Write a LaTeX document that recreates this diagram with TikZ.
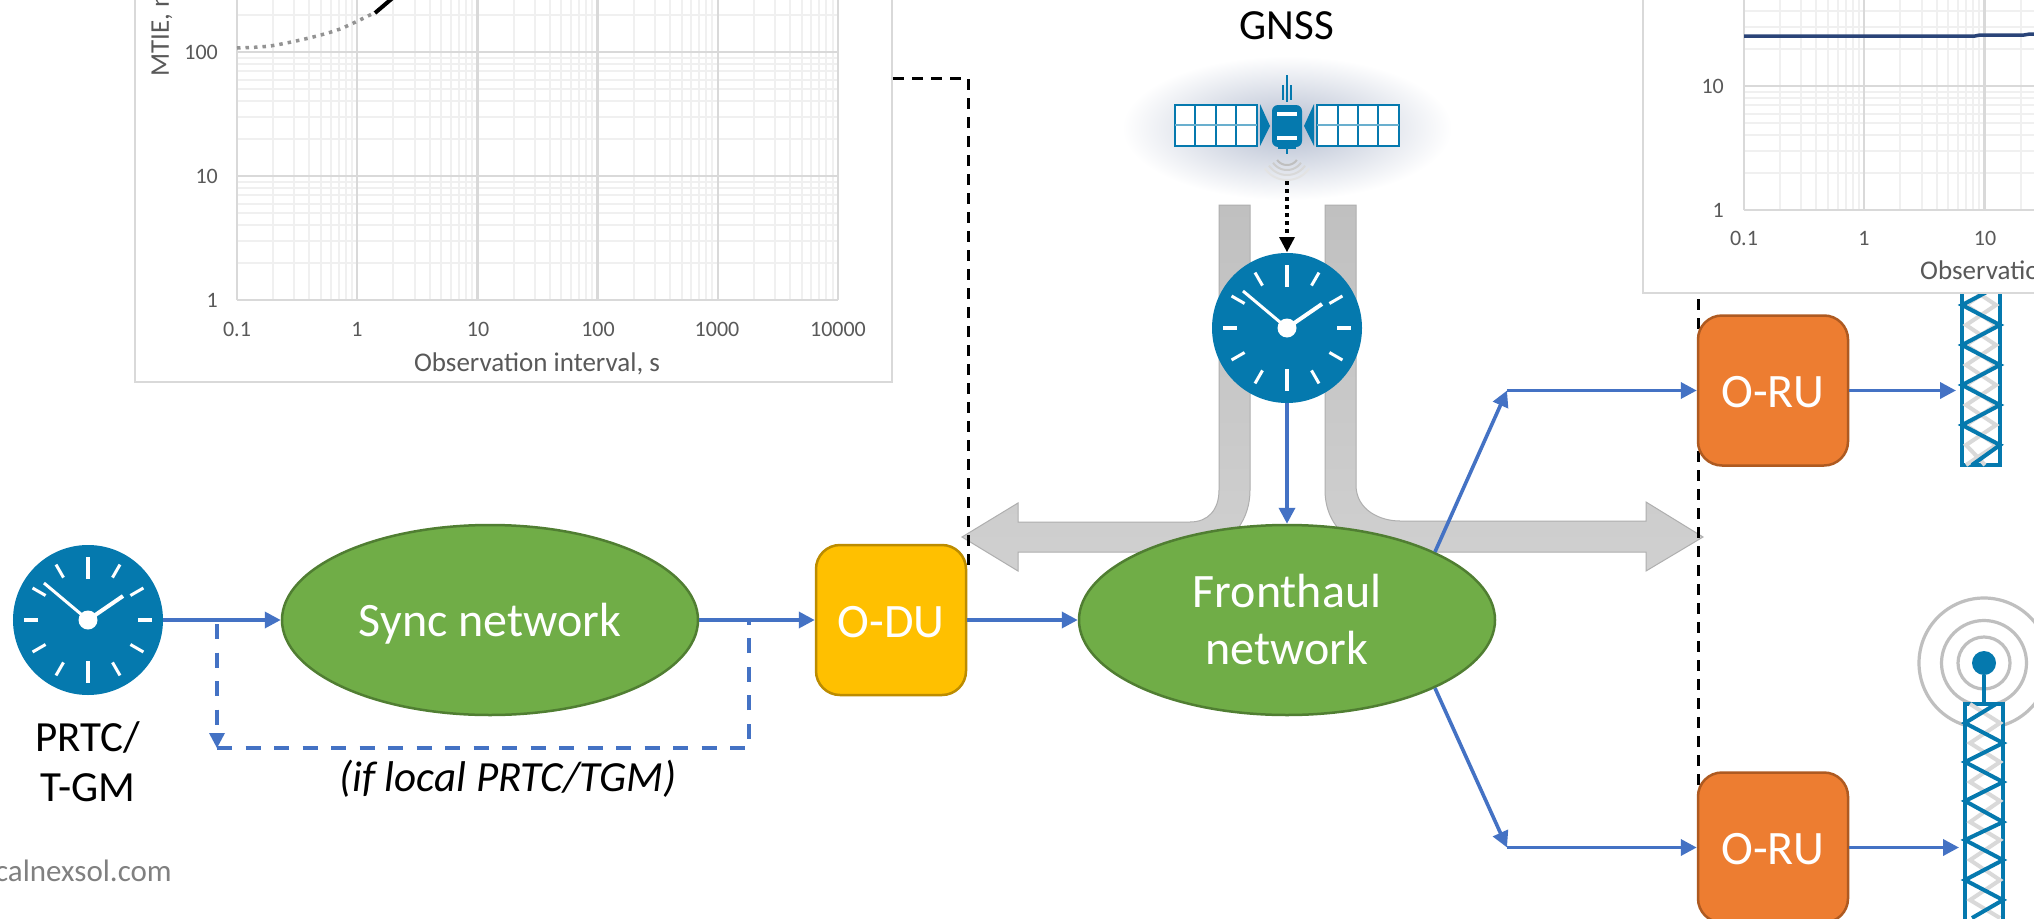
\documentclass[tikz,border=0pt]{standalone}
\usepackage{fontspec}
\setmainfont{Carlito}
\usetikzlibrary{shapes.geometric,arrows.meta}
\definecolor{clockblue}{HTML}{0579AE}
\definecolor{linkblue}{HTML}{4472C4}
\definecolor{netgreen}{HTML}{70AD47}
\definecolor{netedge}{HTML}{507E32}
\definecolor{duyellow}{HTML}{FFC000}
\definecolor{duedge}{HTML}{BC8C00}
\definecolor{ruorange}{HTML}{ED7D31}
\definecolor{ruedge}{HTML}{AE5A21}
\definecolor{axistext}{HTML}{595959}
\definecolor{gridmajor}{HTML}{D9D9D9}
\definecolor{gridlight}{HTML}{F0F0F0}
\definecolor{armtop}{HTML}{C0C0C0}
\definecolor{armbottom}{HTML}{D0D0D0}
\definecolor{armedge}{HTML}{AFAFAF}
\definecolor{navyline}{HTML}{2A4478}
\definecolor{glowblue}{HTML}{B4BDD0}
\tikzset{
  link/.style={draw=linkblue,line width=3.6bp,-{Triangle[length=16bp,width=16bp]}},
  linkdash/.style={draw=linkblue,line width=4bp,dash pattern=on 15bp off 13.5bp},
  blackdash/.style={draw=black,line width=3bp,dash pattern=on 11bp off 8bp},
  clockdisc/.style={circle,fill=clockblue,minimum size=150bp,inner sep=0bp,outer sep=0bp},
  netnode/.style={ellipse,fill=netgreen,draw=netedge,line width=2.5bp,minimum width=416bp,minimum height=190bp,inner sep=0bp,text=white,align=center,font=\fontsize{48bp}{57bp}\selectfont},
  dunode/.style={rectangle,rounded corners=24bp,fill=duyellow,draw=duedge,line width=2.5bp,minimum width=150bp,minimum height=150bp,inner sep=0bp,text=white,text height=35bp,font=\fontsize{48bp}{57bp}\selectfont},
  runode/.style={dunode,fill=ruorange,draw=ruedge},
  label43/.style={text=black,align=center,inner sep=0bp,font=\fontsize{43bp}{50bp}\selectfont},
  ticklabel/.style={text=axistext,inner sep=0bp,font=\fontsize{22bp}{26bp}\selectfont},
  axistitle/.style={text=axistext,inner sep=0bp,font=\fontsize{27bp}{31bp}\selectfont},
  chartframe/.style={rectangle,draw=gridmajor,fill=white,line width=2.5bp,inner sep=0bp},
  gridminor/.style={draw=gridlight,line width=2bp},
  gridmain/.style={draw=gridmajor,line width=2.5bp},
  towerbox/.style={rectangle,draw=clockblue,line width=4bp,minimum width=38bp,inner sep=0bp},
  towerzig/.style={draw=clockblue,line width=4bp,line join=miter},
  towergray/.style={draw=gridmajor,line width=4bp},
  ring/.style={draw=black!25,line width=3.2bp},
  tick/.style={draw=white,line width=4bp},
  armfill/.style={top color=armtop,bottom color=armbottom,draw=armedge,line width=1bp},
  panel/.style={draw=clockblue,line width=1.6bp,fill=white},
}
\newcommand{\clockface}[2]{%
  \begin{scope}[shift={(#1,#2)}]
    \foreach \a in {90,270}{\draw[tick] (\a:41) -- (\a:63);}
    \foreach \a in {0,180}{\draw[tick] (\a:50) -- (\a:64);}
    \foreach \a in {30,60,120,150,210,240,300,330}{\draw[tick,line width=3bp] (\a:49) -- (\a:64);}
    \draw[draw=white,line width=3bp] (0,0) -- (-44,-37);
    \draw[draw=white,line width=4bp] (0,0) -- (35,-24);
    \fill[white] (0,0) circle[radius=9.5];
  \end{scope}}
\newcommand{\chartgrid}[4]{%
  \foreach \k in {1,...,#3}{\foreach \m in {2,...,9}{
    \draw[gridminor] ({#1+120.2*(\k-1+log10(\m))},#2) -- ({#1+120.2*(\k-1+log10(\m))},{#2-124*#4});}}
  \foreach \k in {1,...,#4}{\foreach \m in {2,...,9}{
    \draw[gridminor] (#1,{#2-124*(\k-1+log10(\m))}) -- ({#1+120.2*#3},{#2-124*(\k-1+log10(\m))});}}
  \foreach \k in {0,...,#3}{\draw[gridmain] ({#1+120.2*\k},#2) -- ({#1+120.2*\k},{#2-124*#4});}
  \foreach \k in {0,...,#4}{\draw[gridmain] (#1,{#2-124*\k}) -- ({#1+120.2*#3},{#2-124*\k});}}
\begin{document}
\begin{tikzpicture}[x=1bp,y=-1bp]
\useasboundingbox (0,0) rectangle (2034,919);
\clip (0,0) rectangle (2034,919);
\fill[white] (0,0) rectangle (2034,919);

% glow behind the satellite
\shade[inner color=glowblue,outer color=white] (1287,128) ellipse (165 and 72);

% grey fronthaul arms
\path[armfill] (1219,205) -- (1219,490) .. controls (1219,510) and (1208,522) .. (1190,522)
  -- (1018,522) -- (1018,503) -- (962,537) -- (1018,571) -- (1018,552) -- (1190,552)
  .. controls (1225,552) and (1250,525) .. (1250,490) -- (1250,205) -- cycle;
\path[armfill] (1325,205) -- (1325,490) .. controls (1325,525) and (1350,552) .. (1400,552)
  -- (1646,552) -- (1646,571) -- (1703,537) -- (1646,502) -- (1646,521) -- (1400,521)
  .. controls (1380,521) and (1356,510) .. (1356,485) -- (1356,205) -- cycle;

% towers
\node[towerbox,minimum height=190bp] (tw1) at (1981,370) {};
\draw[towergray] (1996,285) -- (1966,305) -- (1996,325) -- (1966,345) -- (1996,365) -- (1966,385) -- (1996,405) -- (1966,425) -- (1996,445) -- (1966,465);
\draw[towergray] (1966,285) -- (1996,305) -- (1966,325) -- (1996,345) -- (1966,365) -- (1996,385) -- (1966,405) -- (1996,425) -- (1966,445) -- (1985,465);
\draw[towerzig] (2000,285) -- (1962,305) -- (2000,325) -- (1962,345) -- (2000,365) -- (1962,385) -- (2000,405) -- (1962,425) -- (2000,445) -- (1972,465);

\node[ring,circle,minimum size=52bp,inner sep=0bp] (ring1) at (1984,663) {};
\node[ring,circle,minimum size=85bp,inner sep=0bp] (ring2) at (1984,663) {};
\node[ring,circle,minimum size=130bp,inner sep=0bp] (ring3) at (1984,663) {};
\node[towerbox,minimum height=240bp,fill=white] (tw2) at (1984,824) {};
\draw[towergray] (1970,704) -- (2000,723) -- (1970,743) -- (2000,762) -- (1970,782) -- (2000,801) -- (1970,822) -- (2000,840) -- (1970,860) -- (2000,880) -- (1970,900) -- (2000,918);
\draw[towerzig] (1996,704) -- (1965,723) -- (2003,743) -- (1965,762) -- (2003,782) -- (1965,801) -- (2003,822) -- (1965,840) -- (2003,860) -- (1965,880) -- (2003,900) -- (1972,918);
\node[circle,fill=clockblue,minimum size=24bp,inner sep=0bp] (ant) at (1984,663) {};
\draw[draw=clockblue,line width=4bp] (ant) -- (tw2.north);

% right-hand dashed line, under the O-RUs
\coordinate (dR1) at (1698,299);
\coordinate (dR2) at (1698,813);
\draw[blackdash] (dR1) -- (dR2);

% charts
\node[chartframe,minimum width=757bp,minimum height=422bp] (chartL) at (513.5,171) {};
\chartgrid{237}{300}{5}{3}
\draw[draw=gray!85,line width=3.5bp,dash pattern=on 3.5bp off 5bp] plot[smooth] coordinates {(237,48) (270,46) (309,38) (340,29) (372,14)};
\draw[draw=black,line width=4bp] (375,13) -- (402,-10);
\node[ticklabel,anchor=east] (l100) at (218,52) {100};
\node[ticklabel,anchor=east] (l10) at (218,176) {10};
\node[ticklabel,anchor=east] (l1) at (218,300) {1};
\node[ticklabel] (xa) at (237,329) {0.1};
\node[ticklabel] (xb) at (357,329) {1};
\node[ticklabel] (xc) at (478,329) {10};
\node[ticklabel] (xd) at (598,329) {100};
\node[ticklabel] (xe) at (717,329) {1000};
\node[ticklabel] (xf) at (838,329) {10000};
\node[axistitle] (xtL) at (537,364) {Observation interval, s};
\node[axistitle,rotate=90,anchor=west] (ytL) at (162,77) {MTIE, ns};

\node[chartframe,minimum width=500bp,minimum height=360bp] (chartR) at (1893,113) {};
\chartgrid{1744}{210}{4}{2}
\draw[draw=navyline,line width=3.5bp] (1744,36) -- (1975,36) -- (1980,35) -- (2024,35) -- (2030,34) -- (2040,34);
\node[ticklabel,anchor=east] (r10) at (1724,86) {10};
\node[ticklabel,anchor=east] (r1) at (1724,210) {1};
\node[ticklabel] (rxa) at (1744,238) {0.1};
\node[ticklabel] (rxb) at (1864,238) {1};
\node[ticklabel] (rxc) at (1985,238) {10};
\node[axistitle,anchor=west] (xtR) at (1920,272) {Observation interval, s};

% satellite
\draw[draw=clockblue,line width=1.5bp] (1287,75) -- (1287,102);
\draw[draw=clockblue,line width=1.5bp] (1283,85) -- (1283,100) (1291,85) -- (1291,100);
\fill[clockblue] (1260,104) -- (1270,126) -- (1260,146) -- cycle;
\fill[clockblue] (1314,104) -- (1304,126) -- (1314,146) -- cycle;
\draw[panel] (1175,105) rectangle (1257,146);
\draw[panel] (1317,105) rectangle (1399,146);
\foreach \xx in {1195,1216,1236,1338,1358,1378}{\draw[draw=clockblue,line width=1.4bp] (\xx,105) -- (\xx,146);}
\draw[draw=clockblue!60,line width=1.4bp] (1175,125) -- (1257,125) (1317,125) -- (1399,125);
\fill[clockblue,rounded corners=6bp] (1272,105) rectangle (1302,147);
\fill[clockblue] (1278,146) rectangle (1296,149);
\draw[draw=clockblue,line width=1.5bp] (1287,149) -- (1287,154);
\fill[white] (1277,112) rectangle (1297,116);
\fill[white] (1277,136) rectangle (1297,140);
\foreach \r/\cc in {12/black!25,17/black!20,22/black!15,27/black!11}{
  \draw[draw=\cc,line width=2bp] plot[domain=35:145,samples=20] ({1287+\r*cos(\x)},{153+\r*sin(\x)});}
\coordinate (satfoot) at (1287,181);

% clocks
\node[clockdisc] (clk1) at (88,620) {};
\clockface{88}{620}
\node[clockdisc] (clk2) at (1287,328) {};
\clockface{1287}{328}

% network nodes
\node[netnode,text depth=0bp] (sync) at (490,620) {Sync network};
\node[netnode] (fh) at (1287,620) {Fronthaul\\network};
\node[dunode] (odu) at (891,620) {O-DU};
\node[runode] (oru1) at (1773,390.5) {O-RU};
\node[runode] (oru2) at (1773,847.5) {O-RU};

% labels
\node[label43] (gnss) at (1287,26) {GNSS};
\node[label43] (prtc) at (88,762) {PRTC/\\T-GM};
\node[label43] (note) at (508,779) {\itshape (if local PRTC/TGM)};
\node[anchor=east,inner sep=0bp,text=gray,font=\fontsize{31bp}{36bp}\selectfont] (web) at (172,871) {www.calnexsol.com};

% connectors
\draw[draw=black,line width=4bp,dash pattern=on 4bp off 4bp] (satfoot) -- (1287,238);
\fill[black] (1279,237) -- (1295,237) -- (1287,252) -- cycle;
\draw[link] (clk2) -- (fh);
\draw[link] (clk1) -- (sync);
\draw[link] (sync) -- (odu);
\draw[link] (odu) -- (fh);
\coordinate (upcorner) at (1507,390.5);
\coordinate (lowcorner) at (1507,847.5);
\draw[link] (fh.north east) -- (upcorner);
\draw[link] (fh.south east) -- (lowcorner);
\draw[link] (upcorner) -- (oru1);
\draw[link] (lowcorner) -- (oru2);
\draw[link,shorten >=4bp] (oru1) -- (tw1.west |- oru1);
\draw[link,shorten >=4bp] (oru2) -- (tw2.west |- oru2);

% dashed local-PRTC branch
\coordinate (branchA) at (217,624);
\coordinate (branchB) at (217,748);
\coordinate (branchC) at (749,748);
\coordinate (branchD) at (749,622);
\draw[linkdash] (branchA) -- (217,733);
\fill[linkblue] (209,733) -- (225,733) -- (217,748) -- cycle;
\draw[linkdash] (branchB) -- (branchC) -- (branchD);

% left dashed line
\coordinate (dL1) at (968,78);
\coordinate (dL2) at (968,572);
\draw[blackdash] (chartL.east |- dL1) -- (dL1) -- (dL2);
\end{tikzpicture}
\end{document}
